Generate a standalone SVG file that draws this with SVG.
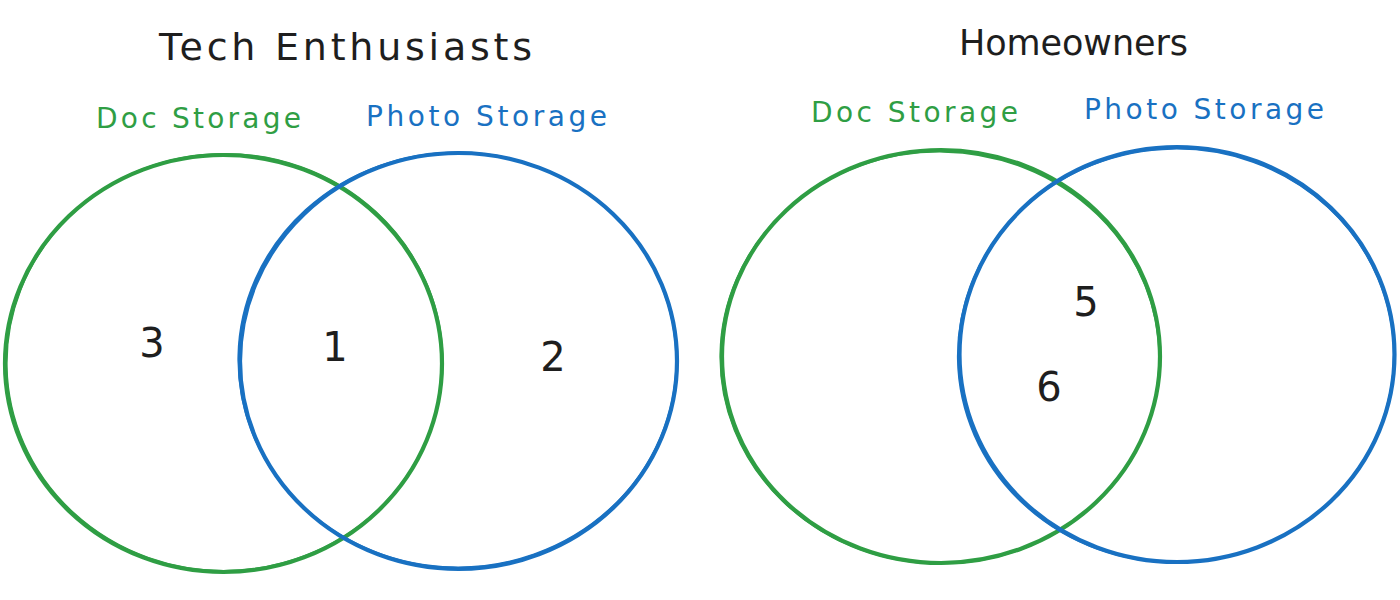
<svg xmlns="http://www.w3.org/2000/svg" width="1400" height="600" viewBox="0 0 1400 600">
  <style>
    .ring { fill: none; stroke-linecap: round; }
    .green { stroke: #2f9e44; }
    .blue { stroke: #1971c2; }
    .main { stroke-width: 4.2; }
    .pass { stroke-width: 2.2; }
    .title { font-family: "DejaVu Sans", "Liberation Sans", sans-serif; font-size: 38px; fill: #1e1e1e; }
    .set { font-family: "DejaVu Sans", "Liberation Sans", sans-serif; font-size: 28px; }
    .set.g { fill: #2f9e44; }
    .set.b { fill: #1971c2; }
    .num { font-family: "DejaVu Sans", "Liberation Sans", sans-serif; font-size: 40px; fill: #1e1e1e; text-anchor: middle; }
  </style>
  <rect width="1400" height="600" fill="#ffffff"/>

  <g id="tech-enthusiasts">
    <text class="title" x="159" y="60" textLength="373" lengthAdjust="spacing">Tech Enthusiasts</text>
    <g id="tech-doc-storage">
      <ellipse class="ring green main" cx="223.5" cy="363.5" rx="218.5" ry="208.5"/>
      <ellipse class="ring green pass" cx="224.5" cy="362.5" rx="218" ry="208.5" transform="rotate(-1.2 224.5 362.5)"/>
      <text class="set g" x="96" y="128" textLength="205" lengthAdjust="spacing">Doc Storage</text>
    </g>
    <g id="tech-photo-storage">
      <ellipse class="ring blue main" cx="458.5" cy="361" rx="218.5" ry="208"/>
      <ellipse class="ring blue pass" cx="457.5" cy="360" rx="219" ry="207.5" transform="rotate(1.2 457.5 360)"/>
      <text class="set b" x="366" y="126" textLength="241" lengthAdjust="spacing">Photo Storage</text>
    </g>
    <text class="num" x="152" y="357">3</text>
    <text class="num" x="335" y="361">1</text>
    <text class="num" x="553" y="371">2</text>
  </g>

  <g id="homeowners">
    <text class="title" x="959" y="55" font-size="35" textLength="229" lengthAdjust="spacing" style="font-size:35px">Homeowners</text>
    <g id="home-doc-storage">
      <ellipse class="ring green main" cx="941" cy="356.5" rx="219" ry="206.5"/>
      <ellipse class="ring green pass" cx="940" cy="357.5" rx="219.5" ry="206" transform="rotate(1 940 357.5)"/>
      <text class="set g" x="811" y="122" textLength="207" lengthAdjust="spacing">Doc Storage</text>
    </g>
    <g id="home-photo-storage">
      <ellipse class="ring blue main" cx="1177" cy="354.5" rx="217.5" ry="207.5"/>
      <ellipse class="ring blue pass" cx="1176" cy="355.5" rx="218" ry="207" transform="rotate(-1 1176 355.5)"/>
      <text class="set b" x="1084" y="119" textLength="240" lengthAdjust="spacing">Photo Storage</text>
    </g>
    <text class="num" x="1086" y="316">5</text>
    <text class="num" x="1049" y="401">6</text>
  </g>
</svg>
